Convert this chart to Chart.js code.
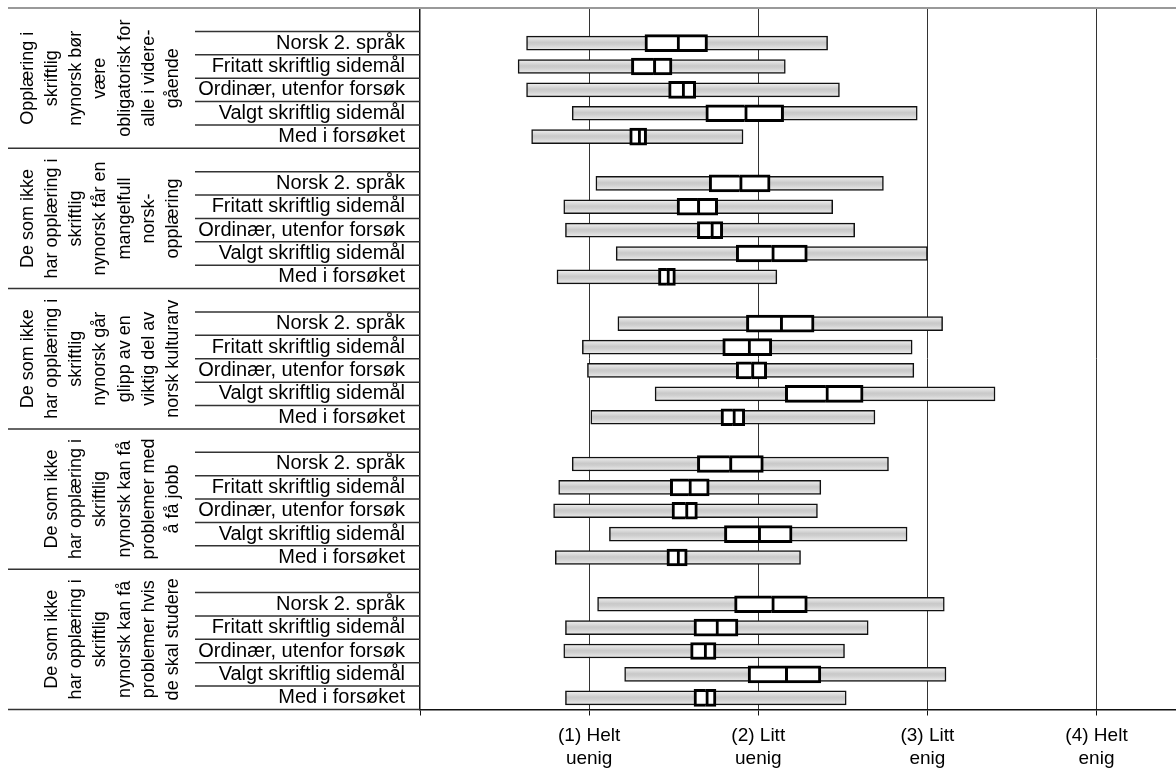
<!DOCTYPE html>
<html>
<head>
<meta charset="utf-8">
<script src="https://cdn.jsdelivr.net/npm/chart.js@4"></script>
<style>
  body { margin: 0; background: #fff; }
  #wrap { width: 1176px; height: 774px; }
</style>
</head>
<body>
<div id="wrap"><canvas id="chart" width="1176" height="774"></canvas></div>
<script>
// statements (rotated group labels, one entry per line)
const groupLabels = [
  ['Opplæring i', 'skriftlig', 'nynorsk bør', 'være', 'obligatorisk for', 'alle i videre-', 'gående'],
  ['De som ikke', 'har opplæring i', 'skriftlig', 'nynorsk får en', 'mangelfull', 'norsk-', 'opplæring'],
  ['De som ikke', 'har opplæring i', 'skriftlig', 'nynorsk går', 'glipp av en', 'viktig del av', 'norsk kulturarv'],
  ['De som ikke', 'har opplæring i', 'skriftlig', 'nynorsk kan få', 'problemer med', 'å få jobb'],
  ['De som ikke', 'har opplæring i', 'skriftlig', 'nynorsk kan få', 'problemer hvis', 'de skal studere'],
]
const subgroups = ['Norsk 2. språk', 'Fritatt skriftlig sidemål', 'Ordinær, utenfor forsøk', 'Valgt skriftlig sidemål', 'Med i forsøket']

// one row of 5 values per statement, subgroups in the order above
const rangeLow = [
  0.63, 0.58, 0.63, 0.90, 0.66,
  1.04, 0.85, 0.86, 1.16, 0.81,
  1.17, 0.96, 0.99, 1.39, 1.01,
  0.90, 0.82, 0.79, 1.12, 0.80,
  1.05, 0.86, 0.85, 1.21, 0.86,
]
const rangeHigh = [
  2.41, 2.16, 2.48, 2.94, 1.91,
  2.74, 2.44, 2.57, 3.00, 2.11,
  3.09, 2.91, 2.92, 3.40, 2.69,
  2.77, 2.37, 2.35, 2.88, 2.25,
  3.10, 2.65, 2.51, 3.11, 2.52,
]
const ciLow = [
  1.33, 1.25, 1.47, 1.69, 1.24,
  1.71, 1.52, 1.64, 1.87, 1.41,
  1.93, 1.79, 1.87, 2.16, 1.78,
  1.64, 1.48, 1.49, 1.80, 1.46,
  1.86, 1.62, 1.60, 1.94, 1.62,
]
const means = [
  1.52, 1.38, 1.55, 1.92, 1.29,
  1.89, 1.64, 1.72, 2.08, 1.46,
  2.13, 1.94, 1.96, 2.40, 1.85,
  1.83, 1.59, 1.57, 2.00, 1.52,
  2.08, 1.75, 1.68, 2.16, 1.69,
]
const ciHigh = [
  1.70, 1.49, 1.63, 2.15, 1.34,
  2.07, 1.76, 1.79, 2.29, 1.51,
  2.33, 2.08, 2.05, 2.62, 1.92,
  2.03, 1.71, 1.64, 2.20, 1.58,
  2.29, 1.88, 1.75, 2.37, 1.75,
]
const tickLabels = ['', ['(1) Helt', 'uenig'], ['(2) Litt', 'uenig'], ['(3) Litt', 'enig'], ['(4) Helt', 'enig']]

const FONT = "'Liberation Sans', Arial, sans-serif"

// every statement gets an empty row on top, then its 5 subgroups
const labels = []
const rows = []
groupLabels.forEach((_, g) => {
  labels.push('')
  rows.push(-1)
  subgroups.forEach((s, k) => {
    labels.push(s)
    rows.push(g * subgroups.length + k)
  })
})
const pick = (a, b) => rows.map((r) => (r < 0 ? null : [a[r], b[r]]))

const greyFill = (c) => {
  const chart = c.chart
  const y = chart.scales.y
  if (!chart.chartArea || !y) return '#d6d6d6'
  const py = y.getPixelForValue(c.dataIndex)
  const grad = chart.ctx.createLinearGradient(0, py - 7, 0, py + 7)
  grad.addColorStop(0, '#f3f3f3')
  grad.addColorStop(0.45, '#c9c9c9')
  grad.addColorStop(0.6, '#cecece')
  grad.addColorStop(1, '#ededed')
  return grad
}

const tablePlugin = {
  id: 'table',
  afterDraw(chart) {
    const { ctx, chartArea, scales: { y } } = chart
    const n = labels.length
    const half = (y.getPixelForValue(1) - y.getPixelForValue(0)) / 2
    ctx.save()
    ctx.strokeStyle = '#999'
    ctx.lineWidth = 2
    ctx.beginPath()
    ctx.moveTo(8, chartArea.top)
    ctx.lineTo(chart.width, chartArea.top)
    ctx.stroke()

    ctx.strokeStyle = '#333'
    ctx.lineWidth = 1.5
    for (let i = 1; i <= n; i++) {
      const py = y.getPixelForValue(i - 1) + half
      const x0 = i % 6 === 0 ? 8 : 195
      ctx.beginPath()
      ctx.moveTo(x0, py)
      ctx.lineTo(chartArea.left, py)
      ctx.stroke()
    }

    ctx.fillStyle = '#000'
    ctx.font = '18px ' + FONT
    ctx.textAlign = 'center'
    ctx.textBaseline = 'middle'
    groupLabels.forEach((lines, g) => {
      const cy = (y.getPixelForValue(g * 6) + y.getPixelForValue(g * 6 + 5)) / 2
      lines.forEach((line, j) => {
        const x = 173 - (lines.length - 1 - j) * 24.2
        ctx.save()
        ctx.translate(x, cy)
        ctx.rotate(-Math.PI / 2)
        ctx.fillText(line, 0, 0)
        ctx.restore()
      })
    })
    ctx.restore()
  },
}

new Chart(document.getElementById('chart'), {
  type: 'bar',
  data: {
    labels: labels,
    datasets: [
      {
        data: pick(ciLow, means),
        backgroundColor: '#fff',
        borderColor: '#000',
        borderWidth: { top: 3, bottom: 3, left: 3, right: 0 },
        borderSkipped: false,
        barThickness: 17,
        grouped: false,
        order: 1,
      },
      {
        data: pick(means, ciHigh),
        backgroundColor: '#fff',
        borderColor: '#000',
        borderWidth: 3,
        borderSkipped: false,
        barThickness: 17,
        grouped: false,
        order: 0,
      },
      {
        data: pick(rangeLow, rangeHigh),
        backgroundColor: greyFill,
        borderColor: '#111',
        borderWidth: 1.5,
        borderSkipped: false,
        barThickness: 14,
        grouped: false,
        order: 2,
      },
    ],
  },
  options: {
    indexAxis: 'y',
    responsive: false,
    animation: false,
    layout: { padding: { top: 8, left: 0, right: 0, bottom: 0 } },
    plugins: { legend: { display: false }, tooltip: { enabled: false } },
    scales: {
      x: {
        type: 'linear',
        min: 0,
        max: 4.47,
        afterBuildTicks: (scale) => {
          scale.ticks = [0, 1, 2, 3, 4].map((v) => ({ value: v }))
        },
        afterFit: (scale) => {
          scale.height = 64.5
          scale.paddingLeft = 0
          scale.paddingRight = 0
        },
        grid: {
          color: (c) => (c.tick && c.tick.value === 0 ? 'rgba(0,0,0,0)' : '#333'),
          tickColor: '#111',
          lineWidth: 1,
          tickLength: 6,
        },
        border: { color: '#111', width: 1.5 },
        ticks: {
          autoSkip: false,
          maxRotation: 0,
          padding: 9,
          color: '#000',
          font: { family: FONT, size: 19, lineHeight: 1.2 },
          callback: (v) => tickLabels[v],
        },
      },
      y: {
        afterFit: (scale) => {
          scale.width = 420
          scale.paddingTop = 0
          scale.paddingBottom = 0
        },
        grid: { display: false },
        border: { display: true, color: '#111', width: 1.5 },
        ticks: {
          autoSkip: false,
          padding: 7,
          color: '#000',
          font: { family: FONT, size: 20 },
        },
      },
    },
  },
  plugins: [tablePlugin],
})
</script>
</body>
</html>
